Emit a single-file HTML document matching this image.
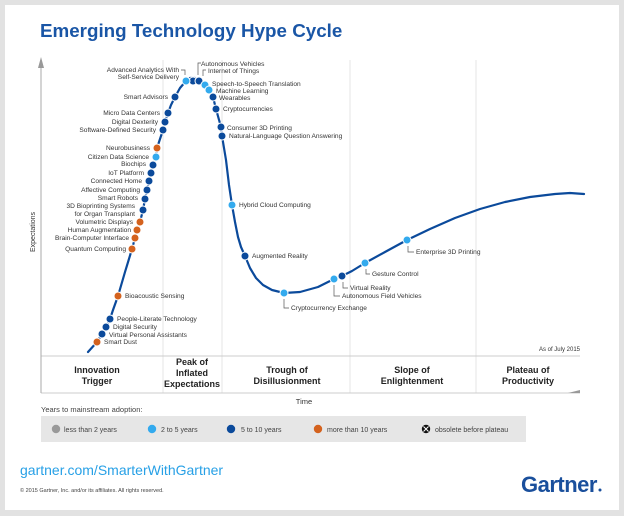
<!DOCTYPE html>
<html><head><meta charset="utf-8"><style>
body{margin:0;background:#fff}
svg text{font-family:"Liberation Sans",Arial,sans-serif}
.l{font-size:6.6px;fill:#333}
.b{font-size:9px;font-weight:bold;fill:#222;text-anchor:middle}
</style></head><body>
<svg width="624" height="516" viewBox="0 0 624 516" xmlns="http://www.w3.org/2000/svg">
<rect width="624" height="516" fill="#e2e2e2"/>
<rect x="5" y="5" width="614" height="505" fill="#fff"/>
<text x="40" y="37" font-size="18.8" font-weight="bold" fill="#1a56a6">Emerging Technology Hype Cycle</text>
<g stroke="#e4e4e4" stroke-width="1">
<line x1="163" y1="60" x2="163" y2="393"/><line x1="222" y1="60" x2="222" y2="393"/>
<line x1="350" y1="60" x2="350" y2="393"/><line x1="476" y1="60" x2="476" y2="393"/>
</g>
<line x1="41" y1="356" x2="580" y2="356" stroke="#ccc"/>
<line x1="41" y1="393" x2="580" y2="393" stroke="#ccc"/>
<line x1="41" y1="62" x2="41" y2="393" stroke="#aaa"/>
<polygon points="41,57 38,68 44,68" fill="#999"/>
<polygon points="568,393 580,390 580,393" fill="#999"/>
<text transform="translate(35,232) rotate(-90)" font-size="7" fill="#333" text-anchor="middle">Expectations</text>
<polyline fill="none" stroke="#0b4a9b" stroke-width="2.2" stroke-linejoin="round" stroke-linecap="round" points="88,352 97,342 102,334 106,327 110,319 113,310 118,296 125,272 132,249 135,238 137,230 140,222 143,210 145,199 147,190 149,181 151,173 153,165 156,157 157,148 160,139 163,130 165,122 168,113 171,105 175,97 180,88 186,81 190,78 195,78 199,81 205,85 209,90 213,97 216,109 221,127 222,136 226,160 229,185 232,205 235,222 238,237 241,247 245,256 250,268 256,278 263,285 272,290 284,293 300,292 318,287 334,279 342,276 352,271 365,263 385,252 407,240 430,229 455,218 480,209 505,202 530,197 555,194 570,193 584,194"/>
<g stroke="#fff" stroke-width="1">
<g fill="#d4621e"><circle cx="97" cy="342" r="4"/><circle cx="118" cy="296" r="4"/><circle cx="132" cy="249" r="4"/><circle cx="135" cy="238" r="4"/><circle cx="137" cy="230" r="4"/><circle cx="140" cy="222" r="4"/><circle cx="157" cy="148" r="4"/></g>
<g fill="#0b4a9b"><circle cx="102" cy="334" r="4"/><circle cx="106" cy="327" r="4"/><circle cx="110" cy="319" r="4"/><circle cx="143" cy="210" r="4"/><circle cx="145" cy="199" r="4"/><circle cx="147" cy="190" r="4"/><circle cx="149" cy="181" r="4"/><circle cx="151" cy="173" r="4"/><circle cx="153" cy="165" r="4"/><circle cx="163" cy="130" r="4"/><circle cx="165" cy="122" r="4"/><circle cx="168" cy="113" r="4"/><circle cx="175" cy="97" r="4"/><circle cx="193" cy="81" r="4"/><circle cx="199" cy="81" r="4"/><circle cx="213" cy="97" r="4"/><circle cx="216" cy="109" r="4"/><circle cx="221" cy="127" r="4"/><circle cx="222" cy="136" r="4"/><circle cx="245" cy="256" r="4"/><circle cx="342" cy="276" r="4"/></g>
<g fill="#33aaee"><circle cx="156" cy="157" r="4"/><circle cx="186" cy="81" r="4"/><circle cx="205" cy="85" r="4"/><circle cx="209" cy="90" r="4"/><circle cx="232" cy="205" r="4"/><circle cx="284" cy="293" r="4"/><circle cx="334" cy="279" r="4"/><circle cx="365" cy="263" r="4"/><circle cx="407" cy="240" r="4"/></g>
</g>
<g stroke="#555" stroke-width="0.7" fill="none">
<polyline points="181,70 185,70 185,75"/><polyline points="198,75 198,63 201,63"/><polyline points="203,76 203,70 206,70"/>
<polyline points="284,299 284,308 289,308"/><polyline points="334,285 334,296 340,296"/><polyline points="343,282 343,288 348,288"/>
<polyline points="366,269 366,274 370,274"/><polyline points="408,246 408,252 414,252"/>
</g>
<g class="l">
<g text-anchor="end">
<text x="179" y="72">Advanced Analytics With</text><text x="179" y="79">Self-Service Delivery</text>
<text x="168" y="99">Smart Advisors</text><text x="160" y="115">Micro Data Centers</text>
<text x="158" y="124">Digital Dexterity</text><text x="156" y="132">Software-Defined Security</text>
<text x="150" y="150">Neurobusiness</text><text x="149" y="159">Citizen Data Science</text>
<text x="146" y="166">Biochips</text><text x="144" y="175">IoT Platform</text>
<text x="142" y="183">Connected Home</text><text x="140" y="192">Affective Computing</text>
<text x="138" y="200">Smart Robots</text><text x="135" y="208">3D Bioprinting Systems</text>
<text x="135" y="216">for Organ Transplant</text><text x="133" y="224">Volumetric Displays</text>
<text x="131" y="232">Human Augmentation</text><text x="129" y="240">Brain-Computer Interface</text>
<text x="126" y="251">Quantum Computing</text>
</g>
<text x="125" y="298">Bioacoustic Sensing</text><text x="117" y="321">People-Literate Technology</text>
<text x="113" y="329">Digital Security</text><text x="109" y="337">Virtual Personal Assistants</text>
<text x="104" y="344">Smart Dust</text>
<text x="201" y="66">Autonomous Vehicles</text><text x="208" y="73">Internet of Things</text>
<text x="212" y="86">Speech-to-Speech Translation</text><text x="216" y="93">Machine Learning</text>
<text x="219" y="100">Wearables</text><text x="223" y="111">Cryptocurrencies</text>
<text x="227" y="130">Consumer 3D Printing</text><text x="229" y="138">Natural-Language Question Answering</text>
<text x="239" y="207">Hybrid Cloud Computing</text><text x="252" y="258">Augmented Reality</text>
<text x="291" y="310">Cryptocurrency Exchange</text><text x="350" y="290">Virtual Reality</text>
<text x="342" y="298">Autonomous Field Vehicles</text><text x="372" y="276">Gesture Control</text>
<text x="416" y="254">Enterprise 3D Printing</text>
<text x="580" y="351" text-anchor="end" font-size="6">As of July 2015</text>
</g>
<text class="b" x="97" y="373">Innovation</text><text class="b" x="97" y="384">Trigger</text>
<text class="b" x="192" y="365">Peak of</text><text class="b" x="192" y="376">Inflated</text><text class="b" x="192" y="387">Expectations</text>
<text class="b" x="287" y="373">Trough of</text><text class="b" x="287" y="384">Disillusionment</text>
<text class="b" x="412" y="373">Slope of</text><text class="b" x="412" y="384">Enlightenment</text>
<text class="b" x="528" y="373">Plateau of</text><text class="b" x="528" y="384">Productivity</text>
<text x="304" y="404" font-size="7.5" fill="#333" text-anchor="middle">Time</text>
<text x="41" y="412" font-size="7.5" fill="#444">Years to mainstream adoption:</text>
<rect x="41" y="416" width="485" height="26" fill="#e6e6e6"/>
<g font-size="7" fill="#444">
<circle cx="56" cy="429" r="4.2" fill="#999"/><text x="64" y="432">less than 2 years</text>
<circle cx="152" cy="429" r="4.2" fill="#33aaee"/><text x="161" y="432">2 to 5 years</text>
<circle cx="231" cy="429" r="4.2" fill="#0b4a9b"/><text x="241" y="432">5 to 10 years</text>
<circle cx="318" cy="429" r="4.2" fill="#d4621e"/><text x="327" y="432">more than 10 years</text>
<circle cx="426" cy="429" r="4.2" fill="#111"/><path d="M423.5,426.5 L428.5,431.5 M428.5,426.5 L423.5,431.5" stroke="#fff" stroke-width="1"/><text x="435" y="432">obsolete before plateau</text>
</g>
<text x="20" y="475" font-size="14" fill="#27a0e6">gartner.com/SmarterWithGartner</text>
<text x="20" y="492" font-size="5.5" fill="#444">© 2015 Gartner, Inc. and/or its affiliates. All rights reserved.</text>
<text x="521" y="492" font-size="22" font-weight="bold" fill="#1a4f9c" letter-spacing="-0.5">Gartner</text>
<circle cx="600" cy="490" r="1.5" fill="#1a4f9c"/>
</svg>
</body></html>
